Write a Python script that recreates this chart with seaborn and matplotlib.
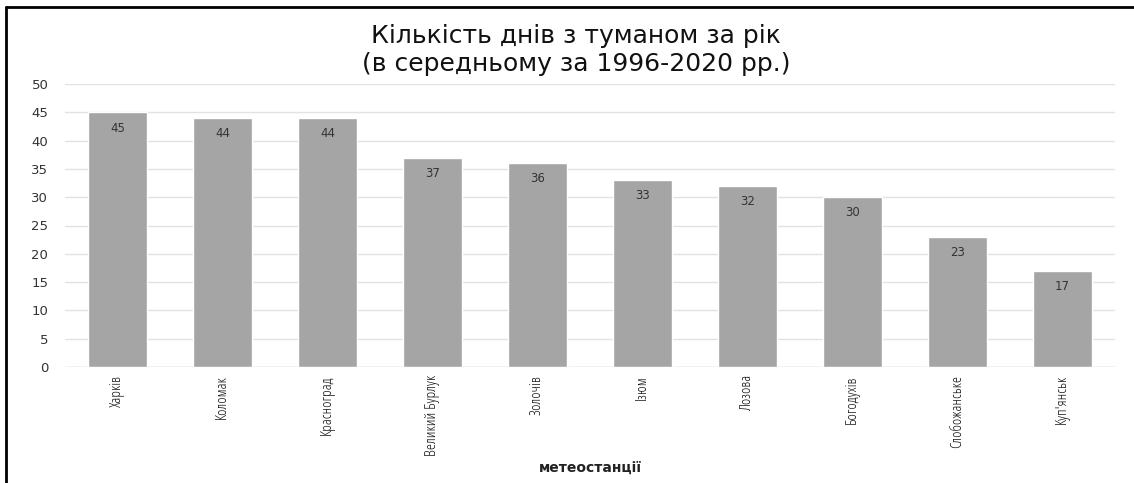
import matplotlib
matplotlib.use("Agg")
import matplotlib.pyplot as plt
import seaborn as sns
import pandas as pd
from matplotlib.lines import Line2D

stations = ["Харків", "Коломак", "Красноград", "Великий Бурлук", "Золочів",
            "Ізюм", "Лозова", "Богодухів", "Слобожанське", "Куп'янськ"]
fog_days = [45, 44, 44, 37, 36, 33, 32, 30, 23, 17]
y_ticks = [0, 5, 10, 15, 20, 25, 30, 35, 40, 45, 50]

sns.set_theme(style="white")
plt.rcParams['font.family'] = ['DejaVu Sans']

df = pd.DataFrame({"station": stations, "days": fog_days})

W, H = 1134, 483
fig = plt.figure(figsize=(W / 100, H / 100), dpi=100)
ax = fig.add_axes([65/W, 1 - 367/H, (1115 - 65)/W, (367 - 84)/H])

sns.barplot(data=df, x="station", y="days", color="#a5a5a5", saturation=1,
            width=0.57, ax=ax, zorder=3)

ax.set_ylim(0, 50)
ax.set_yticks(y_ticks)
ax.set_yticklabels([str(t) for t in y_ticks], fontsize=9.5, color="#333333")
ax.yaxis.grid(True, color="#e2e2e2", linewidth=1, zorder=0)
ax.set_axisbelow(True)
for s in ax.spines.values():
    s.set_visible(False)
ax.axhline(0, color="#d9d9d9", linewidth=1, zorder=1)
ax.tick_params(axis="y", length=0, pad=12)
ax.tick_params(axis="x", length=0, pad=6)
ax.set_xticks(range(len(stations)))
ax.set_xticklabels(stations, rotation=90, fontsize=11, color="#111111",
                   family=["Open Sans"], fontstretch="condensed")
ax.set_ylabel("")
ax.set_xlabel("метеостанції", fontsize=10, fontweight="bold", color="#222222",
              labelpad=3)

for cont in ax.containers:
    ax.bar_label(cont, labels=[str(v) for v in fog_days], label_type="edge",
                 padding=-16, fontsize=8.5, color="#333333")

fig.text(576/W, 1 - 50/H, "Кількість днів з туманом за рік\n(в середньому за 1996-2020 рр.)",
         ha="center", va="center", fontsize=18, color="#111111", linespacing=1.25)

fig.add_artist(Line2D([6/W, 1], [1 - 7/H, 1 - 7/H], transform=fig.transFigure,
                      color="black", linewidth=2))
fig.add_artist(Line2D([6/W, 6/W], [0, 1 - 7/H], transform=fig.transFigure,
                      color="black", linewidth=2))

fig.savefig("out.png", dpi=100)
